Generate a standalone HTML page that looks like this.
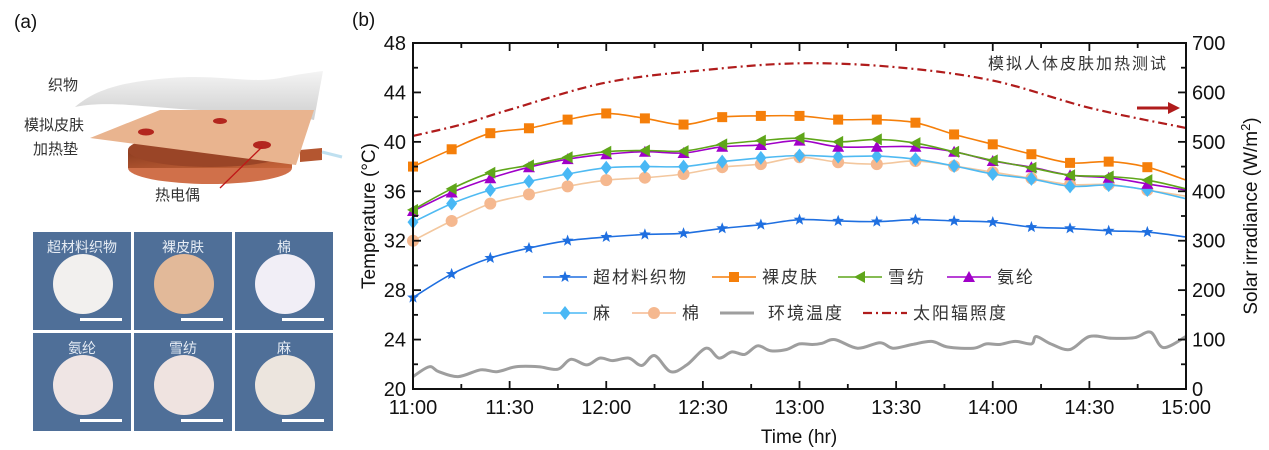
<!DOCTYPE html>
<html><head><meta charset="utf-8">
<style>
html,body{margin:0;padding:0;background:#fff;}
body{width:1269px;height:450px;overflow:hidden;position:relative;font-family:"Liberation Sans","Noto Sans CJK SC",sans-serif;}
svg{position:absolute;left:0;top:0;}
</style></head>
<body>
<svg id="fig" width="1269" height="450" viewBox="0 0 1269 450" xmlns="http://www.w3.org/2000/svg">
  <g>
    <text x="14" y="28" font-size="19" fill="#111">(a)</text>
    <defs>
      <linearGradient id="cop" x1="0" y1="0" x2="1" y2="1"><stop offset="0" stop-color="#8a3b1f"/><stop offset="1" stop-color="#c8653a"/></linearGradient>
      <linearGradient id="fab" x1="0" y1="0" x2="0" y2="1"><stop offset="0" stop-color="#f4f4f4"/><stop offset="1" stop-color="#cfcfcf"/></linearGradient>
    </defs>
    <g>
      <ellipse cx="210" cy="168" rx="82" ry="16" fill="#d0704a"/>
      <rect x="128" y="150" width="164" height="18" fill="url(#cop)"/>
      <ellipse cx="210" cy="150" rx="82" ry="17" fill="#9a4527"/>
      <polygon points="300,150 322,148 322,160 300,162" fill="#b45630"/>
      <line x1="322" y1="152" x2="342" y2="157" stroke="#bfe0f0" stroke-width="3"/>
      <path d="M75,107 C95,90 120,82 170,78 C220,74 250,84 280,78 C300,74 315,72 323,71 L314,120 C280,112 240,112 200,110 C150,108 110,100 75,107 Z" fill="url(#fab)"/>
      <polygon points="90,138 160,110 314,110 296,165" fill="#e9b48f"/>
      <ellipse cx="146" cy="132" rx="8" ry="3.5" fill="#b3261e"/>
      <ellipse cx="220" cy="121" rx="7" ry="3" fill="#b3261e"/>
      <ellipse cx="262" cy="145" rx="9" ry="4" fill="#b3261e"/>
      <line x1="262" y1="147" x2="220" y2="188" stroke="#c01818" stroke-width="1.3"/>
      <text x="48" y="90" font-size="15" fill="#333">织物</text>
      <text x="24" y="130" font-size="15" fill="#333">模拟皮肤</text>
      <text x="33" y="154" font-size="15" fill="#333">加热垫</text>
      <text x="155" y="200" font-size="15" fill="#333">热电偶</text>
    </g>
    <g id="photos"></g>
  </g>
  <text x="352" y="26" font-size="19" fill="#111">(b)</text>
  <g id="chart"></g>
</svg>
<script>
const markerTimes = [0,12,24,36,48,60,72,84,96,108,120,132,144,156,168,180,192,204,216,228,240];
const metaTemp  = [27.4,29.3,30.6,31.4,32.0,32.3,32.5,32.6,33.0,33.3,33.7,33.6,33.55,33.7,33.6,33.5,33.1,33.0,32.8,32.7,32.3];
const skinTemp  = [38.0,39.4,40.7,41.1,41.8,42.3,41.9,41.4,42.0,42.1,42.1,41.8,41.8,41.55,40.6,39.8,39.0,38.3,38.4,37.95,36.9];
const chiffonTemp = [34.5,36.2,37.5,38.1,38.75,39.2,39.3,39.25,39.8,40.1,40.3,40.0,40.2,39.9,39.2,38.5,37.9,37.3,37.2,36.9,36.2];
const spandexTemp = [34.4,35.9,37.05,37.95,38.6,39.0,39.2,39.1,39.6,39.75,40.1,39.6,39.6,39.6,39.2,38.45,37.95,37.3,37.1,36.6,36.1];
const linenTemp = [33.5,35.0,36.1,36.8,37.4,37.9,38.0,38.0,38.4,38.7,38.9,38.8,38.85,38.6,38.05,37.4,37.0,36.4,36.5,36.1,35.4];
const cottonTemp = [32.0,33.6,35.0,35.75,36.4,36.9,37.1,37.4,37.95,38.2,38.75,38.35,38.2,38.45,38.05,37.55,37.05,36.55,36.55,36.1,35.6];
const solarTimes = [0,15,30,60,90,120,150,180,210,240];
const solarValues = [512,535,565,620,645,659,651,624,569,528];
const ambTimes = [0,5,8,14,21,26,32,39,45,49,54,58,62,67,71,75,80,85,91,95,99,103,107,111,116,120,124,127,131,138,145,149,155,161,166,174,178,182,187,192,193.5,198,204,210,217,224,229,233,240];
const ambTemp  = [21.0,21.8,21.4,21.0,21.55,21.4,21.8,21.8,21.6,22.4,21.95,22.5,22.3,22.5,21.9,22.7,21.4,21.95,23.3,22.5,23.0,22.8,23.5,23.1,23.2,23.65,23.6,23.7,24.0,23.3,23.75,23.3,23.6,23.85,23.4,23.3,23.65,23.6,23.85,23.65,24.25,23.65,23.2,24.25,24.1,24.15,24.6,23.35,24.25];
const xTicks = ["11:00","11:30","12:00","12:30","13:00","13:30","14:00","14:30","15:00"];
const yLeftTicks = [20,24,28,32,36,40,44,48];
const yRightTicks = [0,100,200,300,400,500,600,700];

const L=413,R=1186,T=43,B=389;
const NS="http://www.w3.org/2000/svg";
const xs=t=>L+(t/240)*(R-L);
const yl=v=>B-(v-20)/28*(B-T);
const yr=v=>B-v/700*(B-T);
const chart=document.getElementById('chart');
function mk(tag,attrs,parent){const e=document.createElementNS(NS,tag);for(const k in attrs)e.setAttribute(k,attrs[k]);(parent||chart).appendChild(e);return e;}
function txt(x,y,s,size,anchor,parent){const e=mk('text',{x:x,y:y,'font-size':size,'text-anchor':anchor||'start',fill:'#111'},parent);e.textContent=s;return e;}
function smooth(pts){let d='M'+pts[0][0].toFixed(1)+','+pts[0][1].toFixed(1);for(let i=0;i<pts.length-1;i++){const p0=pts[i-1]||pts[i],p1=pts[i],p2=pts[i+1],p3=pts[i+2]||p2;const c1x=p1[0]+(p2[0]-p0[0])/6,c1y=p1[1]+(p2[1]-p0[1])/6,c2x=p2[0]-(p3[0]-p1[0])/6,c2y=p2[1]-(p3[1]-p1[1])/6;d+=' C'+c1x.toFixed(1)+','+c1y.toFixed(1)+' '+c2x.toFixed(1)+','+c2y.toFixed(1)+' '+p2[0].toFixed(1)+','+p2[1].toFixed(1);}return d;}

const amb=mk('path',{d:smooth(ambTimes.map((t,i)=>[xs(t),yl(ambTemp[i])])),fill:'none',stroke:'#9e9e9e','stroke-width':3});


const sol=mk('path',{d:smooth(solarTimes.map((t,i)=>[xs(t),yr(solarValues[i])])),fill:'none',stroke:'#b01c1c','stroke-width':2.2,'stroke-dasharray':'9,4,2,4'});



function marker(type,x,y,color,parent){
  let e;
  if(type==='star'){const p=[];for(let k=0;k<10;k++){const r=k%2?2.6:6.2,a=-Math.PI/2+k*Math.PI/5;p.push((x+r*Math.cos(a)).toFixed(1)+','+(y+r*Math.sin(a)).toFixed(1));}e=mk('polygon',{points:p.join(' '),fill:color},parent);}
  else if(type==='square')e=mk('rect',{x:x-5,y:y-5,width:10,height:10,fill:color},parent);
  else if(type==='left')e=mk('polygon',{points:`${x-6},${y} ${x+5},${y-6} ${x+5},${y+6}`,fill:color},parent);
  else if(type==='up')e=mk('polygon',{points:`${x},${y-6} ${x-6},${y+5} ${x+6},${y+5}`,fill:color},parent);
  else if(type==='diamond')e=mk('polygon',{points:`${x},${y-7} ${x+5.5},${y} ${x},${y+7} ${x-5.5},${y}`,fill:color},parent);
  else e=mk('circle',{cx:x,cy:y,r:6,fill:color},parent);
  return e;
}
const series=[
 {name:'cotton',vals:cottonTemp,color:'#f5b88f',line:'#f3c79e',m:'circle'},
 {name:'linen',vals:linenTemp,color:'#49b8f5',line:'#4fbaf2',m:'diamond'},
 {name:'spandex',vals:spandexTemp,color:'#a000c8',line:'#a000c8',m:'up'},
 {name:'chiffon',vals:chiffonTemp,color:'#5fa61a',line:'#5fa61a',m:'left'},
 {name:'bare-skin',vals:skinTemp,color:'#f57f0a',line:'#f57f0a',m:'square'},
 {name:'metamaterial',vals:metaTemp,color:'#1f6fe0',line:'#1f6fe0',m:'star'}
];
series.forEach(s=>{
  const g=mk('g',{});
  
  
  const p=mk('path',{d:smooth(markerTimes.map((t,i)=>[xs(t),yl(s.vals[i])])),fill:'none',stroke:s.line,'stroke-width':1.6},g);
  
  
  markerTimes.forEach((t,i)=>{if(i<20){const m=marker(s.m,xs(t),yl(s.vals[i]),s.color,g);
    
    }});
});

const frame=mk('rect',{x:L,y:T,width:R-L,height:B-T,fill:'none',stroke:'#111','stroke-width':2});


for(let m=0;m<=240;m+=15){const maj=m%30===0,len=maj?8:5;
  mk('line',{x1:xs(m),x2:xs(m),y1:B,y2:B-len,stroke:'#111','stroke-width':1.8});
  mk('line',{x1:xs(m),x2:xs(m),y1:T,y2:T+len,stroke:'#111','stroke-width':1.8});}
xTicks.forEach((s,i)=>{const e=txt(xs(i*30),414,s,20,'middle');
  
  });
for(let v=20;v<=48;v+=2){const len=v%4===0?8:5;mk('line',{x1:L,x2:L+len,y1:yl(v),y2:yl(v),stroke:'#111','stroke-width':1.8});}
yLeftTicks.forEach(v=>{const e=txt(L-7,yl(v)+7,String(v),20,'end');
  
  });
for(let v=0;v<=700;v+=50){const len=v%100===0?8:5;mk('line',{x1:R,x2:R-len,y1:yr(v),y2:yr(v),stroke:'#111','stroke-width':1.8});}
yRightTicks.forEach(v=>{const e=txt(R+6,yr(v)+7,String(v),20,'start');
  
  });
const xt=txt(799,443,'Time (hr)',19,'middle');


const ylt=txt(0,0,'Temperature (°C)',19,'middle');
ylt.setAttribute('transform','translate(375,216) rotate(-90)');


const yrt=mk('text',{'font-size':19,'text-anchor':'middle',fill:'#111',transform:'translate(1257,216) rotate(-90)'});
yrt.innerHTML='Solar irradiance (W/m<tspan dy="-7" font-size="13">2</tspan><tspan dy="7">)</tspan>';


const ann=txt(1168,69,'模拟人体皮肤加热测试',16,'end');
ann.setAttribute('fill','#333');
ann.setAttribute('letter-spacing','2');


const arr=mk('g',{});


mk('line',{x1:1137,y1:108,x2:1170,y2:108,stroke:'#b01c1c','stroke-width':3},arr);
mk('polygon',{points:'1168,102 1180,108 1168,114',fill:'#b01c1c'},arr);

const leg=[
 ['超材料织物',543,277,'#1f6fe0','star','solid'],['裸皮肤',712,277,'#f57f0a','square','solid'],['雪纺',838,277,'#5fa61a','left','solid'],['氨纶',947,277,'#a000c8','up','solid'],
 ['麻',543,313,'#49b8f5','diamond','solid'],['棉',632,313,'#f5b88f','circle','solid'],['环境温度',720,313,'#9e9e9e',null,'gray'],['太阳辐照度',863,313,'#b01c1c',null,'dash']
];
leg.forEach(l=>{const g=mk('g',{});
  
  
  const x=l[1],y=l[2];
  if(l[5]==='gray')mk('line',{x1:x,x2:x+34,y1:y,y2:y,stroke:l[3],'stroke-width':3},g);
  else if(l[5]==='dash')mk('line',{x1:x,x2:x+44,y1:y,y2:y,stroke:l[3],'stroke-width':2.2,'stroke-dasharray':'9,4,2,4'},g);
  else{mk('line',{x1:x,x2:x+44,y1:y,y2:y,stroke:l[3],'stroke-width':1.4},g);marker(l[4],x+22,y,l[3],g);}
  const tx=l[5]==='gray'?x+48:x+50;
  const t=txt(tx,y+6,l[0],17,'start',g);t.setAttribute('fill','#333');t.setAttribute('letter-spacing','2');});

const photoLabels=['超材料织物','裸皮肤','棉','氨纶','雪纺','麻'];
const photoColors=['#f2f0ee','#e2b999','#f1eef6','#efe5e4','#efe3e0','#ece5de'];
const ph=document.getElementById('photos');
photoLabels.forEach((s,i)=>{const c=i%3,r=Math.floor(i/3);const x=33+c*101,y=232+r*101;
  const g=mk('g',{},ph);
  
  
  mk('rect',{x:x,y:y,width:98,height:98,fill:'#4f6f98'},g);
  mk('circle',{cx:x+50,cy:y+52,r:30,fill:photoColors[i]},g);
  mk('rect',{x:x+47,y:y+86,width:42,height:3,fill:'#fff'},g);
  const t=txt(x+49,y+20,s,14,'middle',g);t.setAttribute('fill','#e6ecf4');});
</script>
</body></html>
